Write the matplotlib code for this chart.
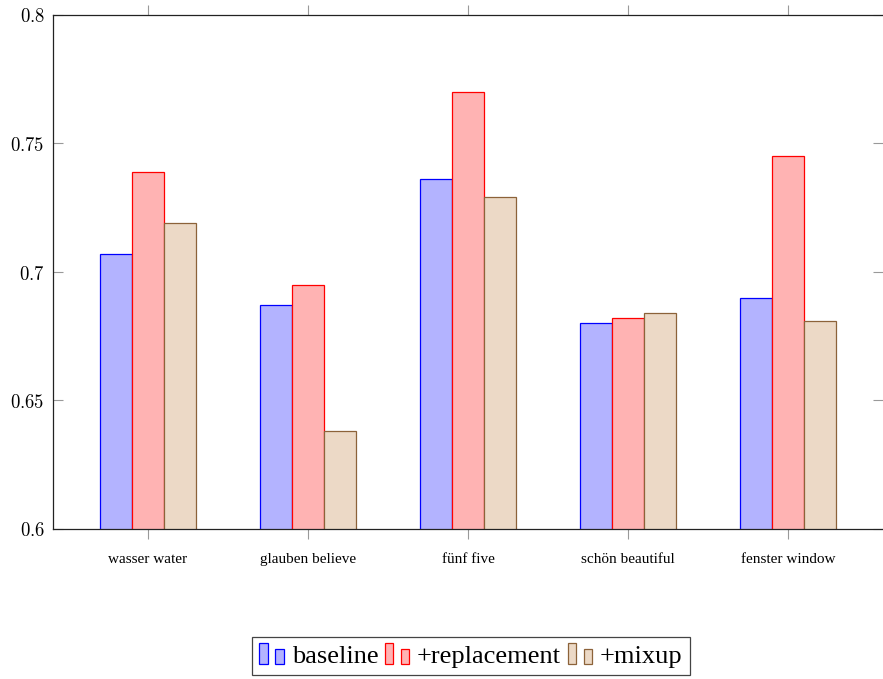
import matplotlib
matplotlib.use("Agg")
import matplotlib.pyplot as plt
import numpy as np
from matplotlib.patches import Rectangle
from matplotlib.legend_handler import HandlerBase

categories = ["wasser water", "glauben believe", "fünf five", "schön beautiful", "fenster window"]
series_names = ["baseline", "+replacement", "+mixup"]
baseline = [0.707, 0.687, 0.736, 0.680, 0.690]
replacement = [0.739, 0.695, 0.770, 0.682, 0.745]
mixup = [0.719, 0.638, 0.729, 0.684, 0.681]
yticks = [0.6, 0.65, 0.7, 0.75, 0.8]
ytick_labels = ["0.6", "0.65", "0.7", "0.75", "0.8"]

fills = ["#B3B3FF", "#FFB3B3", "#ECD9C6"]
edges = ["#0000FF", "#FF0000", "#8C6239"]

plt.rcParams["mathtext.fontset"] = "cm"

W, H = 883, 679
fig = plt.figure(figsize=(W / 100, H / 100), dpi=100)
ax = fig.add_axes([53 / W, 1 - 529 / H, (883 - 53) / W, (529 - 15) / H])

x = np.arange(len(categories))
bw = 0.2
handles = []
for i, vals in enumerate([baseline, replacement, mixup]):
    b = ax.bar(x + (i - 1) * bw, vals, width=bw, color=fills[i], edgecolor=edges[i],
               linewidth=0.9, label=series_names[i])
    handles.append(b.patches[0])

ax.set_xlim(-0.594, 4.594)
ax.set_ylim(0.6, 0.8)
ax.set_xticks(x)
ax.set_xticklabels(categories, family="Liberation Serif", fontsize=11)
ax.set_yticks(yticks)
ax.set_yticklabels(["$" + t + "$" for t in ytick_labels], fontsize=13.5)

ax.tick_params(axis="x", which="both", bottom=True, top=True, direction="out",
               length=7.5, width=0.8, color="#999999", pad=10)
ax.tick_params(axis="y", which="both", left=True, right=True, direction="in",
               length=7.5, width=0.8, color="#999999", pad=6)
ax.spines["right"].set_visible(False)
for s in ["left", "bottom", "top"]:
    ax.spines[s].set_linewidth(0.9)
    ax.spines[s].set_color("#222222")


class TwoBarHandler(HandlerBase):
    def create_artists(self, legend, orig_handle, xdescent, ydescent, width, height,
                       fontsize, trans):
        fc = orig_handle.get_facecolor()
        ec = orig_handle.get_edgecolor()
        x0 = -xdescent
        y0 = -ydescent - 0.05 * height
        r1 = Rectangle((x0 + 0.0 * width, y0), 0.32 * width, 1.15 * height,
                       facecolor=fc, edgecolor=ec, linewidth=0.9, transform=trans)
        r2 = Rectangle((x0 + 0.6 * width, y0), 0.32 * width, 0.82 * height,
                       facecolor=fc, edgecolor=ec, linewidth=0.9, transform=trans)
        return [r1, r2]


leg = fig.legend(handles, series_names, loc="upper center",
                 bbox_to_anchor=(471 / W, 1 - 637 / H), ncol=3,
                 handler_map={h: TwoBarHandler() for h in handles},
                 prop={"family": "Liberation Serif", "size": 19},
                 handlelength=1.0, handletextpad=0.22, columnspacing=0.25,
                 borderpad=0.28, borderaxespad=0, fancybox=False, frameon=True,
                 edgecolor="#444444", framealpha=1)
leg.get_frame().set_linewidth(0.9)

fig.savefig("out.png", dpi=100)
